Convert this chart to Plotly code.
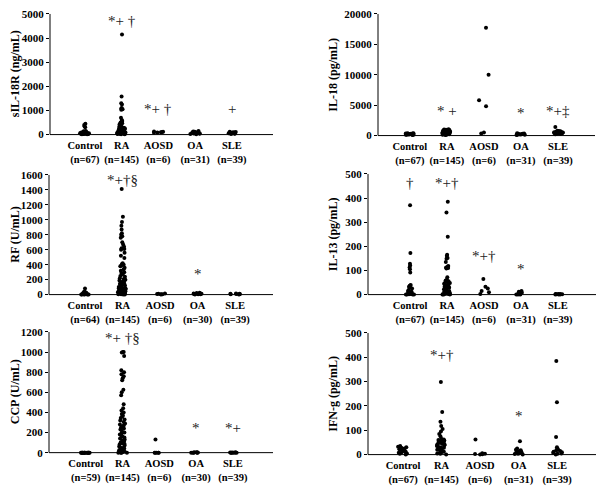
import plotly.graph_objects as go

groups = ["Control", "RA", "AOSD", "OA", "SLE"]

# ---- Panel data ----
sil18r_n = [67, 145, 6, 31, 39]
sil18r_control = [450, 400, 350, 300, 150, 140, 130, 120, 110, 100, 100, 95, 90, 90, 85, 80, 80, 75, 70, 70, 65, 60, 60, 55, 50, 50, 45, 40, 40, 35, 30, 30, 25, 20, 20, 15, 10]
sil18r_ra = [4150, 1580, 1300, 1250, 1100, 1080, 1050, 1030, 700, 600, 560, 520, 500, 470, 450, 430, 400, 380, 360, 340, 320, 300, 290, 280, 270, 260, 250, 240, 230, 220, 210, 200, 190, 180, 170, 160, 150, 150, 140, 130, 120, 120, 110, 100, 100, 90, 90, 80, 80, 70, 70, 60, 60, 50, 50, 40, 40, 30, 30, 20, 20, 10, 10]
sil18r_aosd = [130, 120, 110, 100, 90, 80]
sil18r_oa = [150, 130, 120, 110, 100, 90, 80, 70, 60, 50, 40, 30, 20, 10]
sil18r_sle = [120, 110, 100, 90, 80, 70, 60, 50, 40, 30, 20]

il18_n = [67, 145, 6, 31, 39]
il18_control = [400, 380, 350, 330, 300, 280, 260, 240, 220, 200, 180, 160, 150, 140, 120, 100]
il18_ra = [1050, 1000, 950, 900, 850, 800, 780, 750, 700, 680, 650, 620, 600, 580, 550, 520, 500, 480, 450, 420, 400, 380, 350, 320, 300, 280, 250, 220, 200, 180, 150, 120, 100]
il18_aosd = [17700, 10000, 5800, 4800, 500, 350]
il18_oa = [400, 350, 300, 280, 250, 220, 200, 180, 150, 120, 100]
il18_sle = [1400, 800, 750, 700, 650, 600, 550, 500, 450, 400, 350, 300, 250, 200]

rf_n = [64, 145, 6, 30, 39]
rf_control = [80, 40, 35, 30, 25, 20, 18, 15, 12, 10, 8, 6, 5, 4, 3, 2, 1, 0, 0, 0]
rf_ra = [1410, 1040, 970, 920, 870, 820, 800, 780, 760, 700, 670, 640, 620, 610, 600, 560, 520, 490, 420, 410, 400, 390, 380, 360, 340, 320, 300, 290, 280, 270, 250, 240, 220, 210, 200, 190, 180, 170, 160, 150, 140, 130, 120, 110, 100, 95, 90, 85, 80, 75, 70, 65, 60, 55, 50, 45, 40, 35, 30, 25, 20, 15, 10, 8, 5, 3, 0, 0]
rf_aosd = [15, 10, 8, 5, 3, 0]
rf_oa = [25, 20, 15, 12, 10, 8, 5, 3, 0]
rf_sle = [15, 12, 10, 8, 5, 3, 0]

il13_n = [67, 145, 6, 31, 39]
il13_control = [370, 172, 128, 120, 112, 105, 92, 40, 38, 36, 33, 30, 25, 20, 15, 12, 10, 8, 6, 5, 4, 3, 2, 1, 0, 0, 0, 0]
il13_ra = [385, 340, 240, 165, 160, 152, 148, 135, 118, 115, 112, 110, 108, 72, 62, 58, 55, 52, 50, 48, 45, 42, 40, 38, 35, 32, 30, 28, 25, 22, 20, 18, 15, 12, 10, 8, 6, 5, 4, 3, 2, 1, 0, 0, 0]
il13_aosd = [65, 32, 25, 15, 10, 3]
il13_oa = [15, 12, 8, 5, 3, 2, 1, 0, 0, 0]
il13_sle = [3, 2, 2, 1, 1, 0, 0, 0]

ccp_n = [59, 145, 6, 30, 39]
ccp_control = [0, 0, 0, 0, 0, 0, 0, 0, 0, 0, 0, 0, 0, 0, 0]
ccp_ra = [1000, 1000, 995, 960, 820, 800, 780, 760, 740, 720, 625, 600, 570, 480, 440, 420, 400, 385, 370, 360, 345, 330, 320, 305, 290, 280, 270, 260, 250, 240, 230, 215, 200, 190, 180, 170, 160, 150, 140, 130, 120, 110, 100, 95, 90, 85, 80, 70, 60, 50, 45, 40, 35, 30, 25, 20, 15, 10, 5, 0, 0, 0, 0]
ccp_aosd = [130, 0, 0, 0, 0, 0]
ccp_oa = [5, 3, 2, 1, 0, 0, 0, 0]
ccp_sle = [3, 2, 1, 0, 0, 0, 0, 0]

ifng_n = [67, 145, 6, 31, 39]
ifng_control = [35, 32, 30, 28, 25, 22, 20, 18, 15, 12, 10, 8, 5, 3, 0]
ifng_ra = [298, 175, 135, 118, 105, 95, 85, 75, 65, 62, 60, 58, 55, 52, 50, 48, 45, 42, 40, 38, 35, 32, 30, 28, 25, 22, 20, 18, 15, 12, 10, 8, 5, 3, 0]
ifng_aosd = [62, 6, 4, 2, 1, 0]
ifng_oa = [55, 25, 20, 18, 15, 12, 10, 8, 6, 4, 2, 0]
ifng_sle = [385, 215, 72, 30, 25, 20, 18, 15, 12, 10, 8, 5, 3, 0]

# significance marks: (group, text, y)
sil18r_marks = [("RA", "*+ †", 4700), ("AOSD", "*+ †", 1080), ("SLE", "+", 1080)]
il18_marks = [("AOSD", "*+†‡", 20200), ("RA", "* +", 4050), ("OA", "*", 3700), ("SLE", "*+‡", 4000)]
rf_marks = [("RA", "*+†§", 1530), ("OA", "*", 280)]
il13_marks = [("Control", "†", 463), ("RA", "*+†", 463), ("AOSD", "*+†", 160), ("OA", "*", 108)]
ccp_marks = [("RA", "*+ †§", 1140), ("OA", "*", 245), ("SLE", "*+", 245)]
ifng_marks = [("RA", "*+†", 410), ("OA", "*", 160)]

# panel definitions: title, data, n, marks, ymax, dtick, pixel box (left, right, top, zero), x range, title x
panels = [
    ("sIL-18R (ng/mL)", [sil18r_control, sil18r_ra, sil18r_aosd, sil18r_oa, sil18r_sle], sil18r_n, sil18r_marks, 5000, 1000, (50, 273, 8, 131), (-0.95, 5.12), 15),
    ("IL-18 (pg/mL)", [il18_control, il18_ra, il18_aosd, il18_oa, il18_sle], il18_n, il18_marks, 20000, 5000, (378, 595, 8, 132), (-0.86, 5.0), 333),
    ("RF (U/mL)", [rf_control, rf_ra, rf_aosd, rf_oa, rf_sle], rf_n, rf_marks, 1600, 200, (49, 273, 172, 294), (-0.96, 5.01), 15),
    ("IL-13 (pg/mL)", [il13_control, il13_ra, il13_aosd, il13_oa, il13_sle], il13_n, il13_marks, 500, 100, (368, 596, 171, 294), (-1.14, 5.03), 333),
    ("CCP (U/mL)", [ccp_control, ccp_ra, ccp_aosd, ccp_oa, ccp_sle], ccp_n, ccp_marks, 1200, 200, (49, 273, 332, 455), (-1.0, 5.09), 15),
    ("IFN-g (pg/mL)", [ifng_control, ifng_ra, ifng_aosd, ifng_oa, ifng_sle], ifng_n, ifng_marks, 500, 100, (368, 596, 333, 457), (-0.91, 5.01), 333),
]

W, H = 600, 490
SERIF = "Liberation Serif, Times New Roman, serif"
fig = go.Figure()
annotations = []
shapes = []
layout = {}

for i, (title, data, ns, marks, ymax, dtick, box, xr, tx) in enumerate(panels):
    k = "" if i == 0 else str(i + 1)
    xa, ya = "x" + k, "y" + k
    left, right, top, zero = box
    pad = 3
    ymin = -pad * ymax / (zero - top)
    labels = [f"{g}<br>(n={n})" for g, n in zip(groups, ns)]
    xs, ys = [], []
    for lab, vals in zip(labels, data):
        xs += [lab] * len(vals)
        ys += vals
    fig.add_trace(go.Box(
        x=xs, y=ys, xaxis=xa, yaxis=ya,
        boxpoints="all", jitter=0.55, pointpos=0,
        fillcolor="rgba(0,0,0,0)", line=dict(width=0, color="rgba(0,0,0,0)"),
        marker=dict(color="black", size=4), showlegend=False, hoveron="points",
    ))
    layout["xaxis" + k] = dict(
        domain=[left / W, right / W], anchor=ya, type="category",
        categoryorder="array", categoryarray=labels, range=list(xr),
        showline=False, showgrid=False, zeroline=False, ticks="",
        tickangle=0, ticklabelstandoff=0,
        tickfont=dict(family=SERIF, size=10.5, color="black", weight="bold"),
    )
    layout["yaxis" + k] = dict(
        domain=[(H - zero - pad) / H, (H - top) / H], anchor=xa,
        range=[ymin, ymax], dtick=dtick, tick0=0, tickformat="d", showgrid=False,
        zeroline=False, showline=False, ticks="outside", ticklen=3,
        tickcolor="black",
        tickfont=dict(family=SERIF, size=11, color="black", weight="bold"),
    )
    # axis lines
    shapes.append(dict(type="line", xref=xa + " domain", yref=ya, x0=0, x1=1, y0=0, y1=0,
                       line=dict(color="black", width=1)))
    shapes.append(dict(type="line", xref=xa + " domain", yref=ya, x0=0, x1=0, y0=0, y1=ymax,
                       line=dict(color="black", width=1)))
    # y title
    annotations.append(dict(
        text=title, xref="paper", yref="paper", x=tx / W, y=(H - (top + zero) / 2) / H,
        textangle=-90, showarrow=False, xanchor="center", yanchor="middle",
        font=dict(family=SERIF, size=12, color="black", weight="bold"),
    ))
    for g, txt, yv in marks:
        annotations.append(dict(
            text=txt, x=labels[groups.index(g)], y=yv, xref=xa, yref=ya,
            showarrow=False, xanchor="center", yanchor="middle",
            font=dict(family=SERIF, size=15, color="#222222"),
        ))

fig.update_layout(
    width=W, height=H, margin=dict(l=0, r=0, t=0, b=0),
    paper_bgcolor="white", plot_bgcolor="white",
    annotations=annotations, shapes=shapes, **layout,
)
fig.write_html("out.html", config={"displayModeBar": False})

# remove default page margins so the figure sits at the window's top-left corner
with open("out.html", "r", encoding="utf-8") as f:
    html = f.read()
html = html.replace("<head>", "<head><style>html,body{margin:0;padding:0;overflow:hidden;}</style>", 1)
with open("out.html", "w", encoding="utf-8") as f:
    f.write(html)
